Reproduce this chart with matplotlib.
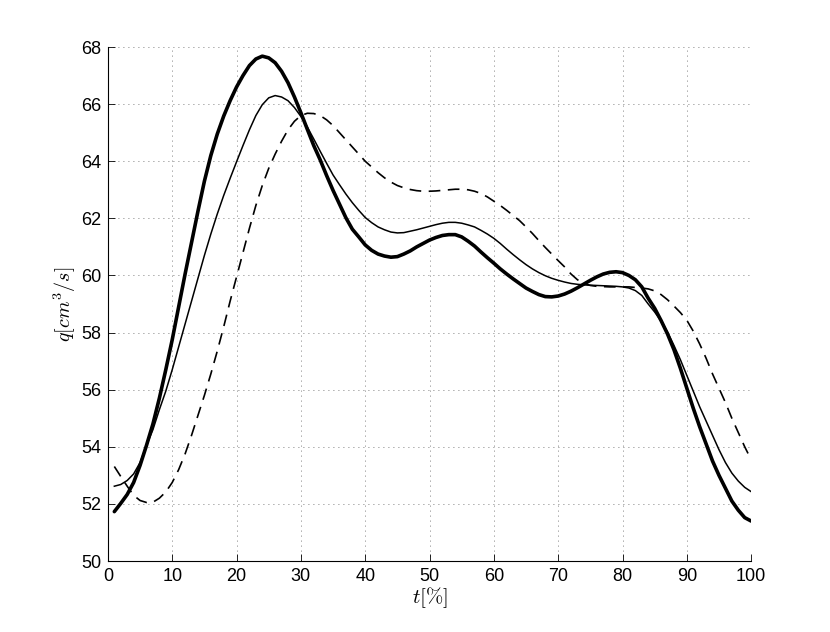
import matplotlib.pyplot as plt

# t in percent of the cycle, 1..100
t = list(range(1, 101))

# thick solid curve
q_thick = [51.73, 52.02, 52.33, 52.75, 53.35, 54.05, 54.8, 55.7, 56.7, 57.75,
           58.9, 60.05, 61.15, 62.25, 63.3, 64.2, 64.95, 65.58, 66.12, 66.6,
           67.0, 67.35, 67.58, 67.68, 67.62, 67.45, 67.15, 66.75, 66.25, 65.7,
           65.12, 64.55, 64.05, 63.5, 62.98, 62.5, 62.02, 61.62, 61.35, 61.07,
           60.88, 60.75, 60.68, 60.64, 60.66, 60.75, 60.86, 61.0, 61.12, 61.24,
           61.33, 61.4, 61.43, 61.43, 61.35, 61.2, 61.03, 60.82, 60.62, 60.43,
           60.23, 60.05, 59.88, 59.72, 59.56, 59.44, 59.33, 59.26, 59.25, 59.28,
           59.35, 59.45, 59.57, 59.7, 59.83, 59.95, 60.05, 60.11, 60.13, 60.1,
           60.0, 59.85, 59.6, 59.2, 58.85, 58.42, 57.95, 57.4, 56.75, 56.05,
           55.35, 54.7, 54.1, 53.5, 53.0, 52.55, 52.1, 51.78, 51.52, 51.4]

# thin solid curve
q_thin = [52.62, 52.68, 52.82, 53.05, 53.45, 54.05, 54.6, 55.3, 55.95, 56.7,
          57.5, 58.3, 59.1, 59.9, 60.7, 61.45, 62.15, 62.8, 63.4, 63.98,
          64.55, 65.1, 65.6, 65.98, 66.22, 66.3, 66.25, 66.12, 65.88, 65.57,
          65.2, 64.78, 64.35, 63.93, 63.52, 63.18, 62.85, 62.55, 62.28, 62.03,
          61.85, 61.7, 61.6, 61.52, 61.49, 61.5, 61.55, 61.6, 61.66, 61.72,
          61.78, 61.83, 61.86, 61.86, 61.83, 61.77, 61.7, 61.58, 61.45, 61.3,
          61.12, 60.92, 60.73, 60.55, 60.38, 60.23, 60.1, 59.99, 59.9, 59.83,
          59.77, 59.72, 59.69, 59.67, 59.66, 59.65, 59.64, 59.63, 59.62, 59.6,
          59.56, 59.47, 59.3, 59.0, 58.72, 58.4, 58.02, 57.55, 57.05, 56.5,
          55.95, 55.4, 54.9, 54.4, 53.9, 53.45, 53.08, 52.8, 52.58, 52.43]

# dashed curve
q_dash = [53.31, 52.96, 52.62, 52.3, 52.12, 52.05, 52.06, 52.2, 52.42, 52.75,
          53.2, 53.75, 54.4, 55.1, 55.8, 56.55, 57.35, 58.2, 59.1, 59.95,
          60.8, 61.65, 62.45, 63.15, 63.75, 64.25, 64.7, 65.1, 65.4, 65.6,
          65.68, 65.67, 65.6, 65.45, 65.25, 65.0, 64.75, 64.5, 64.25, 64.0,
          63.8, 63.6, 63.42, 63.27, 63.15, 63.07, 63.01, 62.97, 62.95, 62.95,
          62.96, 62.98, 63.0, 63.02, 63.02, 63.0, 62.95, 62.87, 62.75, 62.6,
          62.45, 62.28, 62.1, 61.92, 61.7, 61.47, 61.22, 60.98, 60.75, 60.52,
          60.3, 60.05, 59.85, 59.72, 59.65, 59.62, 59.61, 59.6, 59.6, 59.6,
          59.6, 59.58, 59.56, 59.53, 59.46, 59.33, 59.15, 58.93, 58.7, 58.43,
          58.05, 57.6, 57.1, 56.55, 56.05, 55.55, 55.0, 54.5, 54.0, 53.55]

xticks = list(range(0, 101, 10))
yticks = list(range(50, 69, 2))

plt.rcParams['font.family'] = ['Liberation Sans', 'DejaVu Sans']
plt.rcParams['mathtext.fontset'] = 'cm'

fig = plt.figure(figsize=(8.3, 6.32), dpi=100)
ax = fig.add_axes([0.13, 0.1123, 0.775, 0.8133])

ax.plot(t, q_thick, color='black', lw=2.6, solid_capstyle='round', zorder=3)
ax.plot(t, q_thin, color='black', lw=1.1, zorder=3)
ax.plot(t, q_dash, color='black', lw=1.2, dashes=(7, 4.5), zorder=3)

ax.set_xlim(0, 100)
ax.set_ylim(50, 68)
ax.set_xticks(xticks)
ax.set_yticks(yticks)
ax.tick_params(direction='in', length=5, width=0.6, labelsize=13, pad=5)

ax.grid(True, color='#555555', linestyle=(0, (1, 5)), linewidth=0.6)
ax.spines['top'].set_visible(False)
ax.spines['right'].set_visible(False)
ax.spines['left'].set_linewidth(0.8)
ax.spines['bottom'].set_linewidth(0.8)

ax.set_xlabel(r'$t[\%]$', fontsize=15, labelpad=0)
ax.set_ylabel(r'$q[cm^3/s]$', fontsize=14.5, labelpad=2)

fig.savefig('out.png', dpi=100)
